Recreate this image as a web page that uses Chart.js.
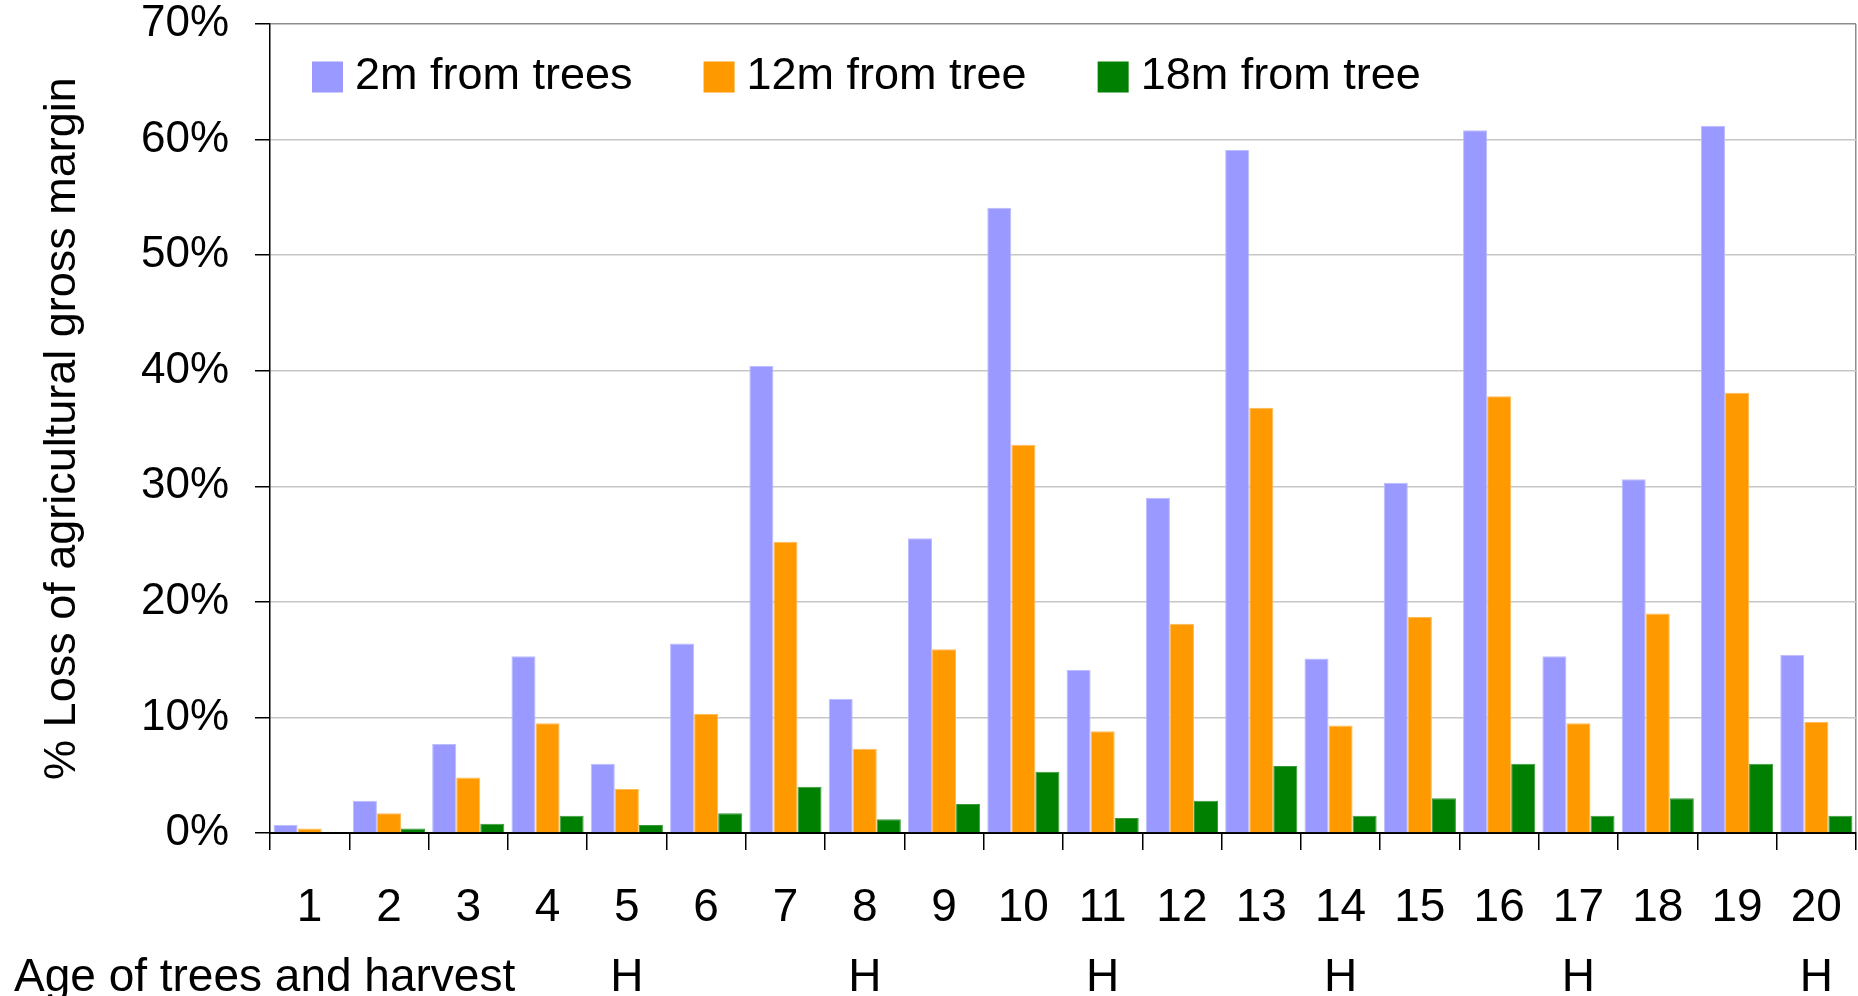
<!DOCTYPE html>
<html>
<head>
<meta charset="utf-8">
<script src="https://cdn.jsdelivr.net/npm/chart.js"></script>
<style>
  body { margin: 0; background: #fff; }
  #wrap { width: 1858px; height: 996px; }
</style>
</head>
<body>
<div id="wrap"><canvas id="lossChart"></canvas></div>
<script>
// tree age (years) and harvest years
const ages = ['1','2','3','4','5','6','7','8','9','10','11','12','13','14','15','16','17','18','19','20'];
const harvest = ['','','','','H','','','H','','','H','','','H','','','H','','','H'];

// % loss of agricultural gross margin
const loss2m  = [0.7, 2.8, 7.7, 15.3, 6.0, 16.4, 40.4, 11.6, 25.5, 54.1, 14.1, 29.0, 59.1, 15.1, 30.3, 60.8, 15.3, 30.6, 61.2, 15.4];
const loss12m = [0.4, 1.7, 4.8, 9.5, 3.8, 10.3, 25.2, 7.3, 15.9, 33.6, 8.8, 18.1, 36.8, 9.3, 18.7, 37.8, 9.5, 19.0, 38.1, 9.6];
const loss18m = [0, 0.4, 0.8, 1.5, 0.7, 1.7, 4.0, 1.2, 2.5, 5.3, 1.3, 2.8, 5.8, 1.5, 3.0, 6.0, 1.5, 3.0, 6.0, 1.5];

const yTicks = [0, 10, 20, 30, 40, 50, 60, 70];
const rowTitle = 'Age of trees and harvest';

const FONT = '"Liberation Sans", Arial, sans-serif';
const xFont = { family: FONT, size: 46, lineHeight: 1.53 };
const xPad = 23;

// legend drawn inside the plot + the text in front of the H row
const extraText = {
  id: 'extraText',
  afterDraw(chart) {
    const { ctx, chartArea, scales } = chart;
    ctx.save();
    ctx.textBaseline = 'middle';
    ctx.textAlign = 'left';
    ctx.font = '45px ' + FONT;
    let x = chartArea.left + 42;
    const y = chartArea.top + 53;
    chart.data.datasets.forEach(ds => {
      ctx.fillStyle = ds.backgroundColor;
      ctx.fillRect(x, y - 15.5, 31, 31);
      ctx.fillStyle = '#000';
      ctx.fillText(ds.label, x + 43, y);
      x += 43 + ctx.measureText(ds.label).width + 71;
    });
    const lh = xFont.size * xFont.lineHeight;
    ctx.font = xFont.size + 'px ' + FONT;
    ctx.fillText(rowTitle, 14, scales.x.top + 17 + xPad + lh * 1.5);
    ctx.restore();
  }
};

const ctx = document.getElementById('lossChart').getContext('2d');
new Chart(ctx, {
  type: 'bar',
  data: {
    labels: ages.map((a, i) => [a, harvest[i]]),
    datasets: [
      { label: '2m from trees', data: loss2m, backgroundColor: '#9999FF', borderColor: '#bdbdff', borderWidth: 1 },
      { label: '12m from tree', data: loss12m, backgroundColor: '#FF9900', borderColor: '#ffbb55', borderWidth: 1 },
      { label: '18m from tree', data: loss18m, backgroundColor: '#008000', borderColor: '#3a9a3a', borderWidth: 1 }
    ]
  },
  options: {
    responsive: true,
    maintainAspectRatio: false,
    animation: false,
    layout: { padding: { left: 0, right: 2, top: 24, bottom: 0 } },
    datasets: {
      bar: { categoryPercentage: 0.91, barPercentage: 1.0 }
    },
    plugins: {
      legend: { display: false },
      tooltip: { enabled: false }
    },
    scales: {
      x: {
        grid: {
          drawOnChartArea: true,
          color: c => c.tick ? 'transparent' : '#8c8c8c',
          lineWidth: 1.5,
          tickLength: 17,
          tickColor: '#000',
          tickWidth: 1.5
        },
        border: { color: '#000', width: 2 },
        ticks: { color: '#000', font: xFont, padding: xPad, maxRotation: 0, autoSkip: false },
        afterFit: s => {
          s.height = 163;
          s.paddingLeft = 0;
          s.paddingRight = 0;
        }
      },
      y: {
        min: 0,
        max: 70,
        afterBuildTicks: s => { s.ticks = yTicks.map(v => ({ value: v })); },
        grid: {
          color: c => c.tick.value === 70 ? '#8c8c8c' : (c.tick.value === 0 ? '#000' : '#c6c6c6'),
          lineWidth: 1.5,
          tickLength: 15,
          tickColor: '#000',
          tickWidth: 1.5
        },
        border: { color: '#000', width: 1.5 },
        ticks: {
          color: '#000',
          font: { family: FONT, size: 44, lineHeight: 1 },
          padding: 26,
          callback: v => v + '%'
        },
        title: {
          display: true,
          text: '% Loss of agricultural gross margin',
          color: '#000',
          font: { family: FONT, size: 45 },
          padding: { top: 36, bottom: 0 }
        },
        afterFit: s => {
          s.width = 270;
          // labels only need half their height above the top gridline
          s.paddingTop = 22;
          s.paddingBottom = 22;
        }
      }
    }
  },
  plugins: [extraText]
});
</script>
</body>
</html>
